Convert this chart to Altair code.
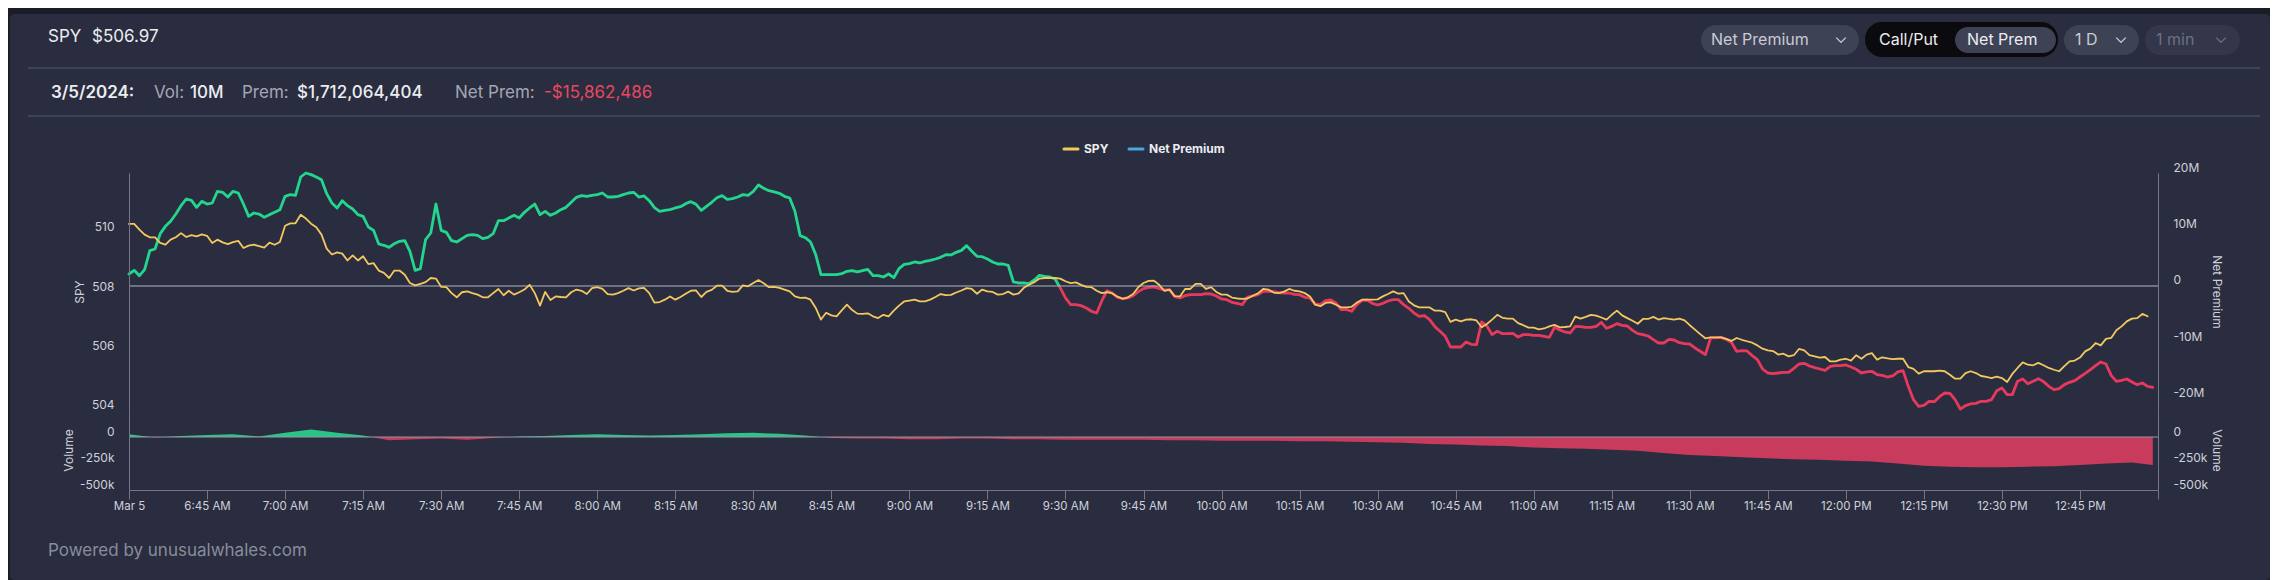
import altair as alt
import pandas as pd

FONT = "Inter"

# ---------------- data ----------------
START_MINUTE = 390  # 6:30 AM, one point per minute

spy_price = [
    510.09,510.09,509.90,509.73,509.64,509.64,509.45,509.39,509.56,509.64,
    509.78,509.65,509.71,509.67,509.74,509.69,509.45,509.56,509.47,509.41,
    509.48,509.52,509.28,509.36,509.39,509.34,509.29,509.46,509.39,509.48,
    510.03,510.11,510.11,510.40,510.27,510.10,509.98,509.73,509.26,509.06,
    509.13,509.09,508.86,509.03,508.86,509.00,508.74,508.77,508.52,508.44,
    508.27,508.52,508.52,508.38,508.10,508.02,508.07,508.13,508.27,508.25,
    507.97,507.96,507.76,507.62,507.79,507.82,507.76,507.71,507.62,507.62,
    507.76,507.90,507.69,507.84,507.71,507.79,507.88,508.04,507.76,507.34,
    507.80,507.53,507.65,507.63,507.62,507.79,507.88,507.84,507.73,507.93,
    507.96,507.90,507.73,507.71,507.76,507.84,507.93,507.85,
    507.92,507.94,507.76,507.44,507.46,507.54,507.65,507.54,507.63,507.74,
    507.84,507.85,507.63,507.80,507.87,508.01,508.01,507.84,507.80,507.82,
    508.02,507.99,508.10,508.20,508.09,507.96,507.97,507.94,507.88,507.82,
    507.65,507.60,507.61,507.54,507.26,506.87,507.10,507.01,506.98,507.18,
    507.37,507.19,507.07,507.06,507.08,506.98,506.92,507.03,506.98,507.17,
    507.34,507.48,507.51,507.54,507.48,507.48,507.54,507.63,507.73,507.69,
    507.70,507.78,507.85,507.93,507.90,507.74,507.88,507.82,507.80,507.71,
    507.73,507.81,507.71,507.75,507.94,508.04,508.13,508.25,508.27,508.27,
    508.27,508.25,508.16,508.10,508.12,508.04,507.97,507.96,507.84,507.76,
    507.79,507.75,507.64,507.57,507.62,507.73,507.96,
    508.10,508.17,508.18,508.04,507.84,507.88,507.66,507.65,507.90,507.90,
    508.07,508.07,507.90,507.96,507.80,507.71,507.71,507.61,507.58,507.57,
    507.58,507.67,507.75,507.90,507.88,507.78,507.76,507.81,507.90,507.84,
    507.82,507.76,507.65,507.37,507.32,507.43,507.45,507.37,507.28,507.28,
    507.30,507.44,507.54,507.54,507.54,507.55,507.65,507.73,507.82,507.74,
    507.76,507.48,507.35,507.28,507.28,507.28,507.17,507.17,507.12,506.79,
    506.87,506.81,506.87,506.88,506.84,506.61,506.72,506.87,507.03,506.93,
    506.90,506.90,506.75,506.68,506.60,506.60,506.54,506.57,506.64,506.69,
    506.61,506.62,506.64,506.97,506.90,506.96,507.03,507.00,506.94,506.87,
    507.03,507.17,507.01,506.92,506.83,506.73,506.89,
    506.89,506.96,506.87,506.92,506.89,506.87,506.90,506.84,506.68,506.53,
    506.38,506.24,506.27,506.27,506.27,506.22,506.15,506.25,506.19,506.14,
    506.09,506.00,505.89,505.83,505.81,505.69,505.72,505.63,505.67,505.88,
    505.83,505.67,505.63,505.59,505.61,505.46,505.46,505.52,505.55,505.49,
    505.67,505.55,505.69,505.74,505.52,505.60,505.56,505.54,505.55,505.55,
    505.27,505.21,505.05,505.13,505.13,505.13,505.15,505.13,505.01,504.88,
    504.88,505.07,505.13,505.07,504.97,504.94,504.90,504.95,504.90,504.77,
    505.04,505.24,505.43,505.35,505.33,505.41,505.33,505.24,505.18,505.13,
    505.30,505.46,505.49,505.59,505.80,505.89,506.08,506.00,506.22,506.25,
    506.51,506.64,506.81,506.90,506.92,507.06,506.98,
]

# cumulative net premium, millions of $
net_prem_m = [
    2.12,2.77,1.83,2.89,6.25,6.55,9.26,10.56,11.45,12.74,
    14.22,15.40,15.16,13.92,14.99,14.51,14.69,16.76,16.58,15.75,
    16.76,16.46,14.51,12.33,12.92,12.74,12.15,12.63,13.04,13.51,
    15.87,16.17,16.05,19.29,20.00,19.71,19.29,18.82,16.34,14.69,
    13.81,15.10,14.22,13.63,12.63,12.33,10.44,9.85,7.43,7.20,
    6.84,7.49,7.91,8.02,6.14,2.77,3.07,8.20,9.38,14.51,
    9.85,9.50,8.02,7.79,8.38,8.97,9.09,8.97,8.38,8.61,
    9.26,11.56,11.56,12.04,12.51,12.04,13.04,13.81,14.51,12.63,
    13.22,12.51,12.92,13.51,13.92,14.81,15.69,15.99,15.87,16.05,
    16.17,16.46,15.75,15.75,15.87,16.17,16.46,16.58,
    15.75,15.93,15.10,13.86,13.22,13.39,13.51,13.81,14.04,14.57,
    14.93,14.45,13.39,14.10,14.81,15.63,15.99,15.34,15.46,15.75,
    16.17,16.05,16.76,17.88,17.29,16.87,16.64,16.40,15.87,15.58,
    13.22,8.91,8.55,7.79,5.55,2.01,2.01,2.01,2.01,2.18,
    2.60,2.71,2.48,2.71,2.95,1.83,1.83,1.59,2.12,1.47,
    3.07,3.83,3.95,4.25,4.07,4.37,4.54,4.78,5.07,5.55,
    5.49,5.96,6.31,7.14,6.14,5.25,5.19,4.78,4.25,3.89,
    3.89,3.66,0.71,0.53,0.53,0.41,1.06,1.89,1.71,1.59,
    1.24,-0.35,-2.12,-3.30,-3.30,-3.48,-3.89,-4.48,-4.78,-2.60,
    -0.83,-1.24,-2.01,-2.24,-2.12,-1.71,-1.00,
    -0.47,-0.24,-0.18,-0.41,-0.71,-0.65,-1.89,-2.12,-1.71,-1.53,
    -1.53,-1.53,-1.36,-1.42,-1.77,-2.30,-2.42,-2.89,-3.07,-3.30,
    -1.95,-1.77,-1.53,-0.94,-0.94,-1.00,-1.18,-1.24,-1.24,-1.47,
    -1.53,-2.01,-2.12,-3.19,-3.30,-2.60,-2.48,-3.01,-4.19,-4.13,
    -4.48,-3.30,-2.54,-2.48,-3.07,-3.36,-3.07,-2.65,-2.42,-2.42,
    -3.30,-3.95,-4.78,-5.37,-5.25,-5.96,-7.20,-8.02,-8.91,-10.80,
    -10.80,-10.80,-9.91,-10.32,-10.38,-6.37,-7.08,-8.61,-8.02,-8.44,
    -8.44,-8.38,-9.03,-8.61,-8.61,-8.73,-8.73,-8.91,-9.09,-7.32,
    -7.79,-8.14,-8.32,-7.14,-7.20,-7.32,-7.32,-7.14,-6.43,-7.49,
    -7.14,-6.67,-6.96,-7.08,-7.85,-8.44,-8.61,
    -8.85,-9.50,-10.09,-10.09,-9.44,-9.56,-10.03,-10.21,-10.27,-10.97,
    -11.56,-12.15,-9.20,-9.20,-9.09,-9.44,-9.97,-11.56,-11.45,-11.50,
    -12.33,-13.04,-14.69,-15.40,-15.52,-15.40,-15.28,-15.28,-14.57,-13.81,
    -13.69,-14.16,-14.45,-14.69,-14.93,-14.22,-14.10,-14.10,-13.98,-14.34,
    -14.75,-15.40,-15.22,-15.10,-15.69,-15.81,-16.11,-15.93,-15.22,-14.99,
    -17.76,-20.12,-21.30,-21.12,-20.41,-20.47,-19.59,-18.94,-19.00,-20.12,
    -21.77,-21.18,-20.88,-20.77,-20.41,-20.41,-20.12,-18.53,-18.05,-19.23,
    -19.23,-16.87,-16.46,-17.29,-16.87,-16.40,-16.93,-17.76,-18.35,-18.17,
    -17.46,-17.05,-16.76,-16.11,-15.46,-14.81,-14.10,-13.45,-13.81,-15.81,
    -16.87,-16.70,-16.46,-16.99,-17.46,-17.17,-17.76,-17.94,
]

# net volume, thousands, sampled every 5 minutes (last sample at 12:59)
vol_minute = [390 + 5 * i for i in range(78)] + [779]
vol_k = [
    25, -5, 10, 20, 25, 5, 40, 70, 40, 15,
    -30, -20, -15, -25, -10, 5, 10, 20, 25, 20,
    15, 20, 25, 35, 40, 30, 15, -10, -15, -15,
    -20, -20, -15, -15, -20, -20, -25, -25, -25, -25,
    -30, -30, -35, -35, -35, -40, -40, -45, -50, -55,
    -65, -70, -80, -85, -100, -105, -110, -120, -130, -150,
    -170, -180, -190, -200, -210, -215, -225, -230, -250, -270,
    -280, -285, -285, -280, -275, -265, -250, -240, -265,
]

x_ticks = list(range(390, 781, 15))
spy_ticks = [504, 506, 508, 510]
np_ticks = [-20e6, -10e6, 0, 10e6, 20e6]
vol_ticks = [0, -250000, -500000]

spy_df = pd.DataFrame({"minute": [START_MINUTE + i for i in range(len(spy_price))],
                       "spy": spy_price})
np_df = pd.DataFrame({"minute": [START_MINUTE + i for i in range(len(net_prem_m))],
                      "net_prem": [v * 1e6 for v in net_prem_m]})
vol_df = pd.DataFrame({"minute": vol_minute, "vol": [v * 1000 for v in vol_k]})
one = pd.DataFrame({"k": [0]})

# ---------------- styles ----------------
BG_OUT = "#1b1c26"
CARD = "#2a2d3f"
SEP = "#3f4357"
WHITE = "#ebecf0"
MUTED = "#a3a6b4"
AXIS_TXT = "#cfd1d9"
DOMAIN = "#747786"
YELLOW = "#f3c860"
GREEN = "#22d68e"
RED = "#e8395d"
VGREEN = "#2bc487"
VRED = "#c83b5c"
BLUE = "#49a7e0"
PILL = "#3e4255"
PILL_DIM = "#34374a"
BLACK = "#0b0b0f"
ZERO = "#b4b6c0"

OX, OY = 129, 173          # plot origin (top panel) in page pixels
OY2 = 410                  # origin of volume panel
W, H1, H2 = 2029, 237, 80


def txt(s, x, y, size, color, weight=400, align="left", oy=OY):
    return alt.Chart(one).mark_text(
        text=s, fontSize=size, color=color, fontWeight=weight, align=align,
        baseline="middle", font=FONT
    ).encode(x=alt.value(x - OX), y=alt.value(y - oy))


def box(x1, x2, y1, y2, color, r=0):
    return alt.Chart(one).mark_rect(color=color, cornerRadius=r).encode(
        x=alt.value(x1 - OX), x2=alt.value(x2 - OX),
        y=alt.value(y1 - OY), y2=alt.value(y2 - OY))


def hline(x1, x2, y, color, w, cap="butt"):
    return alt.Chart(one).mark_rule(color=color, strokeWidth=w, strokeCap=cap).encode(
        x=alt.value(x1 - OX), x2=alt.value(x2 - OX), y=alt.value(y - OY))


def chevron(x, y, color):
    return alt.Chart(one).mark_point(
        shape="M-1,-0.5L0,0.5L1,-0.5", filled=False, size=90, strokeWidth=1.4,
        color=color, opacity=1
    ).encode(x=alt.value(x - OX), y=alt.value(y - OY))


decor = [
    box(10, 2270, 14, 580, CARD, 4),
    txt("SPY", 48, 37, 17, WHITE),
    txt("$506.97", 92, 37, 17, WHITE),
    hline(28, 2260, 68, SEP, 2),
    txt("3/5/2024:", 51, 93, 17, WHITE, 600),
    txt("Vol:", 154, 93, 17, MUTED),
    txt("10M", 190, 93, 17, WHITE, 500),
    txt("Prem:", 242, 93, 17, MUTED),
    txt("$1,712,064,404", 297, 93, 17, WHITE, 500),
    txt("Net Prem:", 455, 93, 17, MUTED),
    txt("-$15,862,486", 544, 93, 17, "#e6485f"),
    hline(28, 2260, 116, SEP, 2),
    # toolbar pills
    box(1701, 1859, 25, 55, PILL, 15),
    txt("Net Premium", 1711, 40, 16, "#c9cbd6"),
    chevron(1841, 40, "#c9cbd6"),
    box(1865, 2058, 22, 57, BLACK, 17),
    txt("Call/Put", 1879, 40, 16, WHITE),
    box(1955, 2056, 27, 53, PILL, 13),
    txt("Net Prem", 1967, 40, 16, WHITE),
    box(2064, 2139, 25, 55, PILL, 15),
    txt("1 D", 2075, 40, 16, "#c9cbd6"),
    chevron(2121, 40, "#c9cbd6"),
    box(2145, 2240, 25, 55, PILL_DIM, 15),
    txt("1 min", 2156, 40, 16, "#6d7082"),
    chevron(2221, 40, "#6d7082"),
    # legend
    hline(1064, 1078, 149, YELLOW, 3, "round"),
    txt("SPY", 1084, 149, 12, WHITE, 700),
    hline(1129, 1143, 149, BLUE, 3, "round"),
    txt("Net Premium", 1149, 149, 12, WHITE, 700),
]

axis_common = dict(
    labelFont=FONT, labelFontSize=12, labelColor=AXIS_TXT, domainColor=DOMAIN,
    domainWidth=1, ticks=False, grid=False, labelPadding=15, zindex=1,
    titleFont=FONT, titleFontSize=12, titleFontWeight="normal", titleColor=AXIS_TXT,
    titleBaseline="middle", titleAlign="center",
)

x_scale = alt.Scale(domain=[390, 780], nice=False, zero=False)
x_top = alt.X("minute:Q", scale=x_scale, axis=None)

spy_line = alt.Chart(spy_df).mark_line(
    color=YELLOW, strokeWidth=1.8, strokeJoin="round", strokeCap="round"
).encode(
    x=x_top,
    y=alt.Y("spy:Q",
            scale=alt.Scale(domain=[503.825, 511.805], nice=False, zero=False),
            axis=alt.Axis(orient="left", values=spy_ticks, title="SPY",
                          titleX=79 - OX, titleY=H1 / 2, titleAngle=-90,
                          **axis_common)),
)

np_max = max(net_prem_m)
np_min = min(net_prem_m)
f_np = np_max / (np_max - np_min)
np_grad = alt.Gradient(
    gradient="linear", x1=0, x2=0, y1=0, y2=1,
    stops=[alt.GradientStop(offset=0, color=GREEN),
           alt.GradientStop(offset=f_np, color=GREEN),
           alt.GradientStop(offset=min(f_np + 0.0005, 1), color=RED),
           alt.GradientStop(offset=1, color=RED)],
)
np_label = ("datum.value == 0 ? '0' : (datum.value < 0 ? '-' : '') + "
            "format(abs(datum.value) / 1e6, 'd') + 'M'")
np_scale = alt.Scale(domain=[-21.95e6, 20e6], nice=False, zero=False)
np_axis = alt.Axis(orient="right", values=np_ticks, labelExpr=np_label,
                   title="Net Premium", titleX=2216 - (OX + W), titleY=H1 / 2,
                   titleAngle=90, labelOffset=-6, labelAlign="left",
                   **axis_common)
np_line = alt.Chart(np_df).mark_line(
    color=np_grad, strokeWidth=2.8, strokeJoin="round", strokeCap="round"
).encode(
    x=x_top,
    y=alt.Y("net_prem:Q", scale=np_scale, axis=np_axis),
)
np_zero = alt.Chart(one).mark_rule(color=ZERO, strokeWidth=1).encode(
    y=alt.YDatum(0, type="quantitative", scale=np_scale, axis=np_axis)
)
np_layer = alt.layer(np_line, np_zero)

top = alt.layer(*decor, np_layer, spy_line).resolve_scale(y="independent").properties(
    width=W, height=H1)

# ---------------- volume panel ----------------
v_max = max(max(vol_k), 0)
v_min = min(min(vol_k), 0)
f_v = v_max / (v_max - v_min)
vol_grad = alt.Gradient(
    gradient="linear", x1=0, x2=0, y1=0, y2=1,
    stops=[alt.GradientStop(offset=0, color=VGREEN),
           alt.GradientStop(offset=f_v, color=VGREEN),
           alt.GradientStop(offset=min(f_v + 0.0005, 1), color=VRED),
           alt.GradientStop(offset=1, color=VRED)],
)
vol_scale = alt.Scale(domain=[-500000, 255000], nice=False, zero=False)
vol_label = ("datum.value == 0 ? '0' : (datum.value < 0 ? '-' : '') + "
             "format(abs(datum.value) / 1000, 'd') + 'k'")
x_label = ("datum.value == 390 ? 'Mar 5' : datum.value >= 780 ? '' : "
           "((floor(datum.value / 60) % 12 == 0 ? 12 : floor(datum.value / 60) % 12) + ':' + "
           "(datum.value % 60 < 10 ? '0' : '') + (datum.value % 60) + "
           "(datum.value >= 720 ? ' PM' : ' AM'))")

x_axis = alt.Axis(values=x_ticks, labelExpr=x_label, title=None, grid=False,
                  ticks=True, tickSize=9, tickColor=DOMAIN, tickWidth=1,
                  domainColor=DOMAIN, labelFont=FONT, labelFontSize=11.5,
                  labelColor=AXIS_TXT, labelPadding=1, labelFlush=False,
                  labelOverlap=False, zindex=1)

vol_area = alt.Chart(vol_df).mark_area(color=vol_grad, opacity=1, interpolate="linear").encode(
    x=alt.X("minute:Q", scale=x_scale, axis=x_axis),
    y=alt.Y("vol:Q", scale=vol_scale,
            axis=alt.Axis(orient="left", values=vol_ticks, labelExpr=vol_label,
                          title="Volume", titleX=68 - OX, titleY=H2 / 2,
                          titleAngle=-90, labelOffset=-6, **axis_common)),
    y2=alt.Y2Datum(0),
)
vol_zero = alt.Chart(one).mark_rule(color="#9698a5", strokeWidth=1).encode(
    y=alt.YDatum(0, type="quantitative", scale=vol_scale,
                 axis=alt.Axis(orient="right", values=vol_ticks, labelExpr=vol_label,
                               title="Volume", titleX=2216 - (OX + W), titleY=H2 / 2,
                               titleAngle=90, labelOffset=-6, labelAlign="left",
                               **axis_common))
)
powered = txt("Powered by unusualwhales.com", 48, 551, 17, "#898c9b", oy=OY2)

bottom = alt.layer(vol_area, vol_zero, powered).resolve_scale(y="independent").properties(
    width=W, height=H2)

chart = alt.vconcat(top, bottom, spacing=0, bounds="flush").properties(
    background=BG_OUT,
    padding={"left": 2, "top": 6, "right": 0, "bottom": 0},
).configure(font=FONT).configure_view(stroke=None)

chart.save("out.html", embed_options={"renderer": "svg", "actions": False})
